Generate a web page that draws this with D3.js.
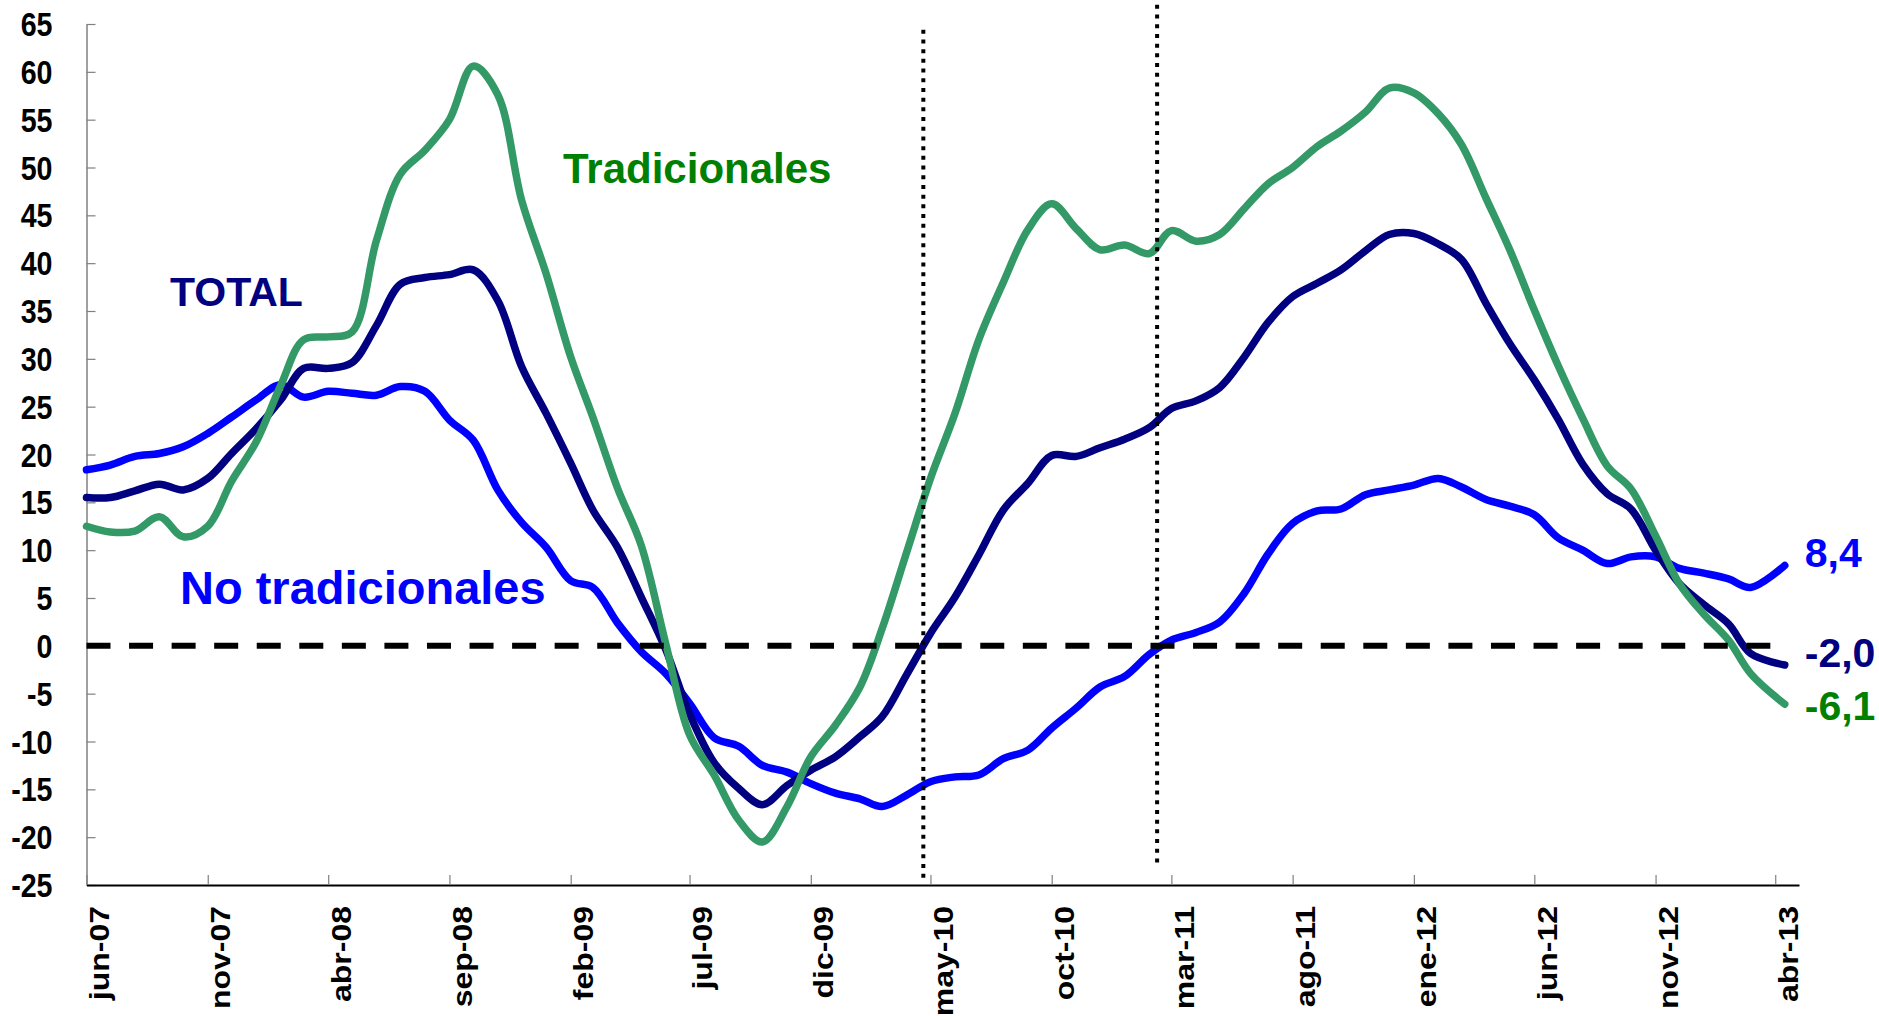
<!DOCTYPE html>
<html>
<head>
<meta charset="utf-8">
<script src="https://cdn.jsdelivr.net/npm/d3@7"></script>
<style>
    body { margin: 0; background: #ffffff; }
    svg { display: block; }
</style>
</head>
<body>
<div id="chart"></div>
<script>
const ctx = {
    w: 1879, h: 1016,
    left: 86.5, right: 1799, top: 24, bottom: 885,
    lineWidth: 7.5,
    font: "'Liberation Sans', Arial, sans-serif"
};

// monthly readings jun-07 .. mar-13, plus the last reading mid april 2013
const firstMonth = new Date(2007, 5, 1);
const lastMonth = new Date(2013, 3, 1);
const lastReading = new Date(2013, 3, 13);
const axisEnd = new Date(2013, 4, 1);

const tickLabels = ["jun-07", "nov-07", "abr-08", "sep-08", "feb-09", "jul-09", "dic-09", "may-10",
    "oct-10", "mar-11", "ago-11", "ene-12", "jun-12", "nov-12", "abr-13"];
const yTicks = [-25, -20, -15, -10, -5, 0, 5, 10, 15, 20, 25, 30, 35, 40, 45, 50, 55, 60, 65];

const noTradicionales = [
    18.4, 18.9, 19.8, 20.1, 20.8, 22.2, 23.9, 25.7, 27.3, 26.0,
    26.6, 26.4, 26.2, 27.1, 26.6, 23.6, 21.5, 16.3, 12.9, 10.3,
    6.8, 6.1, 2.4, -0.6, -2.9, -6.0, -9.6, -10.5, -12.5, -13.2,
    -14.4, -15.4, -16.0, -16.8, -15.6, -14.2, -13.7, -13.5, -11.8, -10.9,
    -8.6, -6.5, -4.3, -3.2, -0.9, 0.6, 1.4, 2.5, 5.5, 9.6,
    12.8, 14.1, 14.3, 15.8, 16.3, 16.8, 17.5, 16.6, 15.3, 14.6,
    13.7, 11.3, 10.0, 8.6, 9.3, 9.3, 8.1, 7.6, 7.0, 6.1,
    8.4];
const total = [
    15.5, 15.5, 16.2, 16.9, 16.3, 17.5, 20.1, 22.7, 25.7, 29.0,
    29.0, 29.6, 33.5, 37.8, 38.5, 38.8, 39.3, 36.1, 29.2, 24.3,
    19.1, 14.2, 10.3, 5.1, -0.4, -7.1, -12.2, -14.9, -16.6, -14.6,
    -13.0, -11.6, -9.5, -7.4, -3.0, 1.3, 5.1, 9.5, 14.2, 17.0,
    19.9, 19.8, 20.7, 21.6, 22.8, 24.8, 25.6, 27.0, 30.2, 33.8,
    36.5, 37.9, 39.3, 41.3, 43.0, 43.1, 42.0, 40.4, 35.8, 31.6,
    27.8, 23.7, 19.0, 15.9, 14.3, 10.0, 6.5, 4.3, 2.3, -0.8,
    -2.0];
const tradicionales = [
    12.5, 11.9, 12.0, 13.5, 11.4, 12.5, 17.2, 21.3, 27.2, 32.0,
    32.3, 32.8, 42.4, 49.3, 51.8, 55.0, 60.6, 57.6, 46.6, 38.9,
    30.2, 23.9, 16.5, 10.5, 0.2, -9.3, -13.5, -18.2, -20.5, -16.8,
    -11.6, -8.3, -4.3, 1.8, 9.8, 17.5, 24.3, 32.0, 38.0, 43.5,
    46.2, 43.6, 41.4, 41.9, 41.0, 43.4, 42.3, 43.0, 45.7, 48.3,
    50.0, 52.2, 53.8, 55.8, 58.3, 57.8, 55.6, 52.4, 46.8, 41.4,
    35.1, 29.3, 23.8, 18.8, 16.4, 11.5, 6.5, 3.3, 0.6, -2.9,
    -6.1];

const markerDates = [new Date(2010, 3, 22), new Date(2011, 1, 11)];
const markerTop = [64.4, 67.0];
const markerBottom = [-24.4, -22.8];

const esLocale = d3.timeFormatLocale({
    dateTime: "%A, %e de %B de %Y, %X",
    date: "%d/%m/%Y",
    time: "%H:%M:%S",
    periods: ["AM", "PM"],
    days: ["domingo", "lunes", "martes", "miércoles", "jueves", "viernes", "sábado"],
    shortDays: ["dom", "lun", "mar", "mié", "jue", "vie", "sáb"],
    months: ["enero", "febrero", "marzo", "abril", "mayo", "junio", "julio", "agosto",
        "septiembre", "octubre", "noviembre", "diciembre"],
    shortMonths: ["ene", "feb", "mar", "abr", "may", "jun", "jul", "ago", "sep", "oct", "nov", "dic"]
});

function drawChart() {
    let svg = d3.select("#chart").append("svg")
        .attr("width", ctx.w)
        .attr("height", ctx.h)
        .style("font-family", ctx.font)
        .style("font-weight", "bold");

    let dates = d3.timeMonth.range(firstMonth, lastMonth);
    dates.push(lastReading);

    let x = d3.scaleTime()
        .domain([firstMonth, axisEnd])
        .range([ctx.left, ctx.right]);
    let y = d3.scaleLinear()
        .domain([-25, 65])
        .range([ctx.bottom, ctx.top]);

    // y axis, ticks pointing inwards
    let yAxisG = svg.append("g")
        .attr("transform", "translate(" + ctx.left + ",0)")
        .call(d3.axisLeft(y).tickValues(yTicks).tickSizeInner(-9).tickSizeOuter(0)
            .tickFormat(d => String(d)));
    yAxisG.select(".domain").attr("stroke", "#808080").attr("stroke-width", 1.5);
    yAxisG.selectAll(".tick line").attr("stroke", "#808080").attr("stroke-width", 1.2);
    yAxisG.selectAll("text")
        .attr("x", -34 / 0.88)
        .attr("dy", "0.358em")
        .attr("transform", "scale(0.88,1)")
        .attr("fill", "#000")
        .style("font-size", "32.5px")
        .style("font-family", ctx.font)
        .style("font-weight", "bold");

    // x axis, rotated month labels
    let parseTick = esLocale.parse("%b-%y");
    let tickDates = tickLabels.map(parseTick);
    let xAxisG = svg.append("g")
        .attr("transform", "translate(0," + ctx.bottom + ")")
        .call(d3.axisBottom(x).tickValues(tickDates).tickSizeInner(-10).tickSizeOuter(0)
            .tickFormat(esLocale.format("%b-%y")));
    xAxisG.select(".domain").attr("stroke", "#000").attr("stroke-width", 2);
    xAxisG.selectAll(".tick line").attr("stroke", "#808080").attr("stroke-width", 1.2);
    xAxisG.selectAll("text")
        .attr("x", -21)
        .attr("y", 22 / 0.86)
        .attr("dy", null)
        .attr("text-anchor", "end")
        .attr("transform", "rotate(-90) scale(1,0.86)")
        .attr("fill", "#000")
        .style("font-size", "32px")
        .style("font-family", ctx.font)
        .style("font-weight", "bold");

    let series = [
        {name: "No tradicionales", values: noTradicionales, color: "#0000FF", label: "#0000FF", dy: 2},
        {name: "TOTAL", values: total, color: "#000080", label: "#000080", dy: 2},
        {name: "Tradicionales", values: tradicionales, color: "#339966", label: "#008000", dy: 16}
    ];
    series.forEach(s => {
        s.points = s.values.map((v, i) => ({date: dates[i], value: v}));
    });

    let lineGenerator = d3.line()
        .curve(d3.curveCatmullRom.alpha(0.5))
        .x(d => x(d.date))
        .y(d => y(d.value));

    svg.append("g").selectAll("path")
        .data(series)
        .enter()
        .append("path")
        .attr("fill", "none")
        .attr("stroke", d => d.color)
        .attr("stroke-width", ctx.lineWidth)
        .attr("stroke-linejoin", "round")
        .attr("stroke-linecap", "round")
        .attr("d", d => lineGenerator(d.points));

    // zero reference
    svg.append("path")
        .datum([{date: dates[0], value: 0}, {date: dates[dates.length - 1], value: 0}])
        .attr("fill", "none")
        .attr("stroke", "#000")
        .attr("stroke-width", 6)
        .attr("stroke-dasharray", "24 18.56")
        .attr("d", d3.line().x(d => x(d.date)).y(d => y(d.value)));

    // dotted markers
    svg.append("g").selectAll("line")
        .data(markerDates)
        .enter()
        .append("line")
        .attr("x1", d => x(d))
        .attr("x2", d => x(d))
        .attr("y1", (d, i) => y(markerTop[i]))
        .attr("y2", (d, i) => y(markerBottom[i]))
        .attr("stroke", "#000")
        .attr("stroke-width", 4)
        .attr("stroke-dasharray", "4 5.7");

    // series names
    let names = [
        {text: "Tradicionales", x: 563, y: 183, size: 42, color: "#008000"},
        {text: "TOTAL", x: 170, y: 306, size: 41, color: "#000080"},
        {text: "No tradicionales", x: 180, y: 604, size: 47, color: "#0000FF"}
    ];
    svg.append("g").selectAll("text")
        .data(names)
        .enter()
        .append("text")
        .attr("x", d => d.x)
        .attr("y", d => d.y)
        .attr("fill", d => d.color)
        .style("font-size", d => d.size + "px")
        .text(d => d.text);

    // last values
    let fmt = v => v.toFixed(1).replace(".", ",");
    svg.append("g").selectAll("text")
        .data(series)
        .enter()
        .append("text")
        .attr("x", x(lastReading) + 20)
        .attr("y", d => y(d.values[d.values.length - 1]) + d.dy)
        .attr("fill", d => d.label)
        .style("font-size", "41px")
        .text(d => fmt(d.values[d.values.length - 1]));
}

drawChart();
</script>
</body>
</html>
